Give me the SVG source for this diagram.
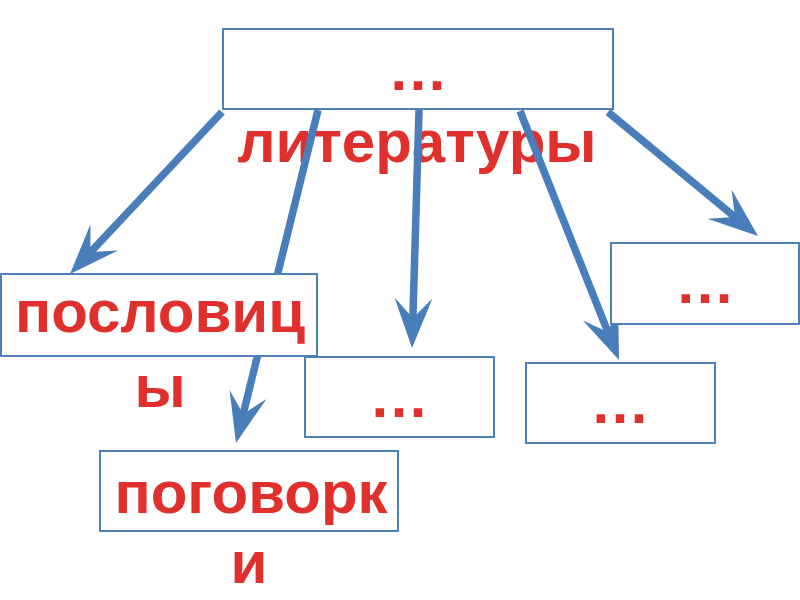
<svg xmlns="http://www.w3.org/2000/svg" width="800" height="600" viewBox="0 0 800 600">
<defs>
<style>
.box{fill:#ffffff;stroke:#4F81BD;stroke-width:2}
.lbl{font-family:"Liberation Sans",Arial,sans-serif;font-weight:bold;font-size:60px;fill:#E0302D;text-anchor:middle}
.conn{stroke:#4A7EBB;stroke-width:7.5;fill:none;marker-end:url(#ah)}
</style>
<marker id="ah" markerUnits="userSpaceOnUse" markerWidth="60" markerHeight="50" viewBox="-30 -25 60 50" refX="0" refY="0" orient="auto" overflow="visible">
<path d="M20,0 L-30,-19 L-10,0 L-30,19 Z" fill="#4A7EBB"/>
</marker>
</defs>
<rect width="800" height="600" fill="#ffffff"/>
<g id="node-top">
<rect class="box" x="223" y="29" width="390" height="80"/>
<text class="lbl" x="418" y="90">…</text>
<text class="lbl" x="417" y="162">литературы</text>
</g>
<g id="connectors">
<line class="conn" x1="222" y1="112" x2="83.7" y2="259.4"/>
<line class="conn" x1="318" y1="110" x2="240.8" y2="423.6"/>
<line class="conn" x1="419" y1="110" x2="412.6" y2="328"/>
<line class="conn" x1="520" y1="111" x2="611.6" y2="341.4"/>
<line class="conn" x1="608" y1="112" x2="742.6" y2="223.3"/>
</g>
<g id="node-poslovitsy">
<rect class="box" x="1" y="274" width="316" height="82"/>
<text class="lbl" x="160" y="332">пословиц</text>
<text class="lbl" x="160" y="407">ы</text>
</g>
<g id="node-pogovorki">
<rect class="box" x="100" y="451" width="298" height="80"/>
<text class="lbl" x="251" y="513">поговорк</text>
<text class="lbl" x="249" y="583">и</text>
</g>
<g id="node-mid">
<rect class="box" x="305" y="357" width="189" height="80"/>
<text class="lbl" x="399" y="417">…</text>
</g>
<g id="node-right-low">
<rect class="box" x="526" y="363" width="189" height="80"/>
<text class="lbl" x="620" y="423">…</text>
</g>
<g id="node-right-high">
<rect class="box" x="611" y="243" width="188" height="81"/>
<text class="lbl" x="705" y="303">…</text>
</g>
</svg>
